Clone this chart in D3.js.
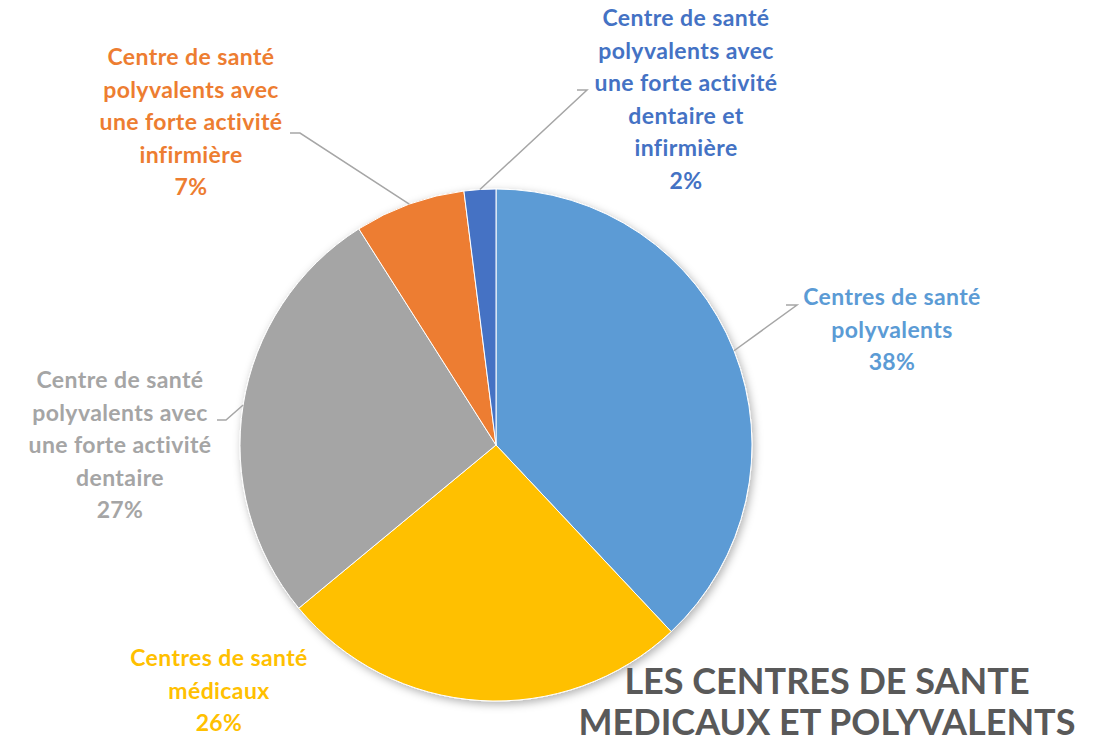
<!DOCTYPE html>
<html>
<head>
<meta charset="utf-8">
<title>Les centres de santé</title>
<style>
  body { margin: 0; background: #fff; }
  .lbl { font-family: Lato, "Open Sans", sans-serif; font-weight: bold; font-size: 23px; letter-spacing: 0.4px; text-anchor: middle; }
  .title { font-family: Lato, "Open Sans", sans-serif; font-weight: bold; font-size: 36px; fill: #595959; text-anchor: middle; }
  .leader { fill: none; stroke: #a6a6a6; stroke-width: 1.5; }
</style>
</head>
<body>
<svg width="1097" height="749"></svg>
<script src="https://d3js.org/d3.v7.min.js"></script>
<script>
// categories and values (clockwise from 12 o'clock)
var categories = [
  ["Centres de santé", "polyvalents"],
  ["Centres de santé", "médicaux"],
  ["Centre de santé", "polyvalents avec", "une forte activité", "dentaire"],
  ["Centre de santé", "polyvalents avec", "une forte activité", "infirmière"],
  ["Centre de santé", "polyvalents avec", "une forte activité", "dentaire et", "infirmière"]
];
var values = [38, 26, 27, 7, 2];
var colors = ["#5b9bd5", "#ffc000", "#a5a5a5", "#ed7d31", "#4472c4"];

// label placement: centre x, first baseline y, elbow point of leader (null = none)
var labelPos = [
  {x: 892, y: 305, elbow: [797, 305], end: [786, 305]},
  {x: 219, y: 666, elbow: null},
  {x: 120, y: 388, elbow: [226, 420], end: [217, 420]},
  {x: 191, y: 65, elbow: [300, 133], end: [290, 133]},
  {x: 686, y: 26, elbow: [587, 90], end: [577, 90]}
];

var svg = d3.select("svg");
var cx = 496, cy = 445, r = 256;

var defs = svg.append("defs");
var f = defs.append("filter").attr("id", "shadow")
  .attr("x", "-10%").attr("y", "-10%").attr("width", "120%").attr("height", "120%");
f.append("feDropShadow").attr("dx", 2).attr("dy", 3).attr("stdDeviation", 4)
  .attr("flood-color", "#000").attr("flood-opacity", 0.3);

var pie = d3.pie().sort(null).value(function(d) { return d; });
var arcs = pie(values);
var arc = d3.arc().innerRadius(0).outerRadius(r);

var g = svg.append("g").attr("transform", "translate(" + cx + "," + cy + ")");
g.append("g").attr("filter", "url(#shadow)")
  .selectAll("path")
  .data(arcs)
  .enter().append("path")
    .attr("d", arc)
    .attr("fill", function(d, i) { return colors[i]; })
    .attr("stroke", "#fff")
    .attr("stroke-width", 1);

// leader lines: from arc edge (mid angle) to elbow
arcs.forEach(function(d, i) {
  var p = labelPos[i];
  if (!p.elbow) return;
  var a = (d.startAngle + d.endAngle) / 2;
  var ex = cx + r * Math.sin(a), ey = cy - r * Math.cos(a);
  svg.append("polyline").attr("class", "leader")
    .attr("points", [[ex, ey], p.elbow, p.end].map(function(q) { return q.join(","); }).join(" "));
});

// labels
arcs.forEach(function(d, i) {
  var p = labelPos[i];
  var t = svg.append("text").attr("class", "lbl")
    .attr("x", p.x).attr("y", p.y).attr("fill", colors[i]);
  var lines = categories[i].concat([values[i] + "%"]);
  lines.forEach(function(s, k) {
    t.append("tspan").attr("x", p.x).attr("dy", k === 0 ? 0 : 32.5).text(s);
  });
});

// title
var title = svg.append("text").attr("class", "title").attr("x", 827).attr("y", 694);
title.append("tspan").attr("x", 827).text("LES CENTRES DE SANTE");
title.append("tspan").attr("x", 827).attr("dy", 41).text("MEDICAUX ET POLYVALENTS");
</script>
</body>
</html>
